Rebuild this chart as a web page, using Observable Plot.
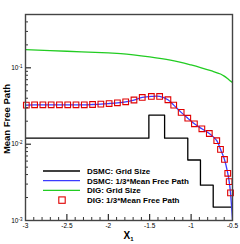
<!DOCTYPE html>
<html><head><meta charset="utf-8">
<script src="https://cdn.jsdelivr.net/npm/d3@7"></script>
<script src="https://cdn.jsdelivr.net/npm/@observablehq/plot@0.6"></script>
<style>body{margin:0;background:#fff} svg{display:block}</style>
</head><body><div id="chart"></div>
<script>
// DSMC: Grid Size (step)
const dsmcGridX = [-3, -1.51, -1.32, -1.04, -0.887, -0.733, -0.516];
const dsmcGridY = [0.012, 0.024, 0.012, 0.0062, 0.0029, 0.0015, 0.0015];
// DSMC: 1/3*Mean Free Path (line)
const dsmcMfpX = [-2.99, -2.89, -2.79, -2.69, -2.59, -2.49, -2.39, -2.29, -2.19, -2.09, -1.99, -1.89, -1.79, -1.69, -1.59, -1.48, -1.38, -1.28, -1.21, -1.12, -1.04, -0.96, -0.87, -0.78, -0.69, -0.645, -0.597, -0.557, -0.54, -0.524, -0.5];
const dsmcMfpY = [0.0325, 0.0328, 0.0328, 0.0328, 0.0328, 0.0328, 0.0328, 0.0328, 0.0331, 0.0335, 0.0341, 0.0348, 0.0359, 0.0379, 0.0409, 0.0422, 0.0422, 0.0382, 0.0325, 0.0261, 0.0219, 0.0185, 0.0159, 0.0138, 0.0111, 0.00855, 0.00631, 0.00415, 0.00323, 0.0023, 0.001];
// DIG: Grid Size (line)
const digGridX = [-3, -2.5, -2, -1.85, -1.5, -1.25, -1, -0.886, -0.75, -0.645, -0.6, -0.55, -0.5];
const digGridY = [0.173, 0.165, 0.157, 0.154, 0.139, 0.126, 0.109, 0.101, 0.091, 0.083, 0.078, 0.071, 0.064];
// DIG: 1/3*Mean Free Path (markers)
const digMfpX = [-2.99, -2.89, -2.79, -2.69, -2.59, -2.49, -2.39, -2.29, -2.19, -2.09, -1.99, -1.89, -1.79, -1.69, -1.59, -1.48, -1.38, -1.28, -1.21, -1.12, -1.04, -0.96, -0.87, -0.78, -0.69, -0.645, -0.597, -0.557, -0.54, -0.524];
const digMfpY = [0.0325, 0.0328, 0.0328, 0.0328, 0.0328, 0.0328, 0.0328, 0.0328, 0.0331, 0.0335, 0.0341, 0.0348, 0.0359, 0.0379, 0.0409, 0.0422, 0.0422, 0.0382, 0.0325, 0.0261, 0.0219, 0.0185, 0.0159, 0.0138, 0.0111, 0.00855, 0.00631, 0.00415, 0.00323, 0.0023];

const xMajorTicks = [-3, -2.5, -2, -1.5, -1, -0.5];
const xMinorTicks = [-2.9,-2.8,-2.7,-2.6,-2.4,-2.3,-2.2,-2.1,-1.9,-1.8,-1.7,-1.6,-1.4,-1.3,-1.2,-1.1,-0.9,-0.8,-0.7,-0.6];
const yMajorTicks = [0.001, 0.01, 0.1];
const yMinorTicks = [0.002,0.003,0.004,0.005,0.006,0.007,0.008,0.009,0.02,0.03,0.04,0.05,0.06,0.07,0.08,0.09,0.2,0.3,0.4];
const legendLabels = ["DSMC: Grid Size", "DSMC: 1/3*Mean Free Path", "DIG: Grid Size", "DIG: 1/3*Mean Free Path"];
const legendColors = ["#000000", "#3c3cff", "#22cc22", "#e00000"];

const zip = (xs, ys) => xs.map((x, i) => ({x, y: ys[i]}));
const W = 240, H = 244, mL = 25, mR = 8, mT = 14, mB = 24;
const pw = W - mL - mR, ph = H - mT - mB;

const chart = Plot.plot({
  width: W, height: H,
  marginLeft: mL, marginRight: mR, marginTop: mT, marginBottom: mB,
  style: {fontFamily: "'Liberation Sans', Arial, sans-serif", fontSize: "6.5px", color: "#000", background: "#fff", overflow: "visible"},
  x: {domain: [-3, -0.5]},
  y: {type: "log", domain: [0.001, 0.5]},
  marks: [
    Plot.line(zip(dsmcGridX, dsmcGridY), {x: "x", y: "y", curve: "step-after", stroke: legendColors[0], strokeWidth: 1.3, clip: true}),
    Plot.line(zip(digGridX, digGridY), {x: "x", y: "y", curve: "catmull-rom", stroke: legendColors[2], strokeWidth: 1.3, clip: true}),
    Plot.line(zip(dsmcMfpX, dsmcMfpY), {x: "x", y: "y", curve: "catmull-rom", stroke: legendColors[1], strokeWidth: 1.3, clip: true}),
    Plot.dot(zip(digMfpX, digMfpY), {x: "x", y: "y", symbol: "square", r: 3.2, stroke: legendColors[3], strokeWidth: 1.1, fill: "none"}),
    Plot.tickX(xMajorTicks, {x: d => d, insetTop: ph - 6, stroke: "#000", strokeWidth: 1}),
    Plot.tickX(xMinorTicks, {x: d => d, insetTop: ph - 3, stroke: "#000", strokeWidth: 0.8}),
    Plot.tickY(yMajorTicks, {y: d => d, insetRight: pw - 6, stroke: "#000", strokeWidth: 1}),
    Plot.tickY(yMinorTicks, {y: d => d, insetRight: pw - 3, stroke: "#000", strokeWidth: 0.8}),
    Plot.frame({stroke: "#444", strokeWidth: 1.4}),
    Plot.axisX({ticks: xMajorTicks, tickSize: 0, tickPadding: 3, tickFormat: d => String(d), label: null}),
    Plot.axisY({ticks: yMajorTicks, tickSize: 0, tickPadding: 3, tickFormat: d => "10|" + Math.round(Math.log10(d)), label: null})
  ]
});
document.getElementById("chart").appendChild(chart);

const svg = d3.select(chart);
// superscript tick labels
svg.selectAll('g[aria-label="y-axis tick label"] text').each(function() {
  const t = d3.select(this);
  const [base, exp] = t.text().split("|");
  t.text(null);
  t.append("tspan").text(base);
  t.append("tspan").attr("font-size", "4.5px").attr("dy", "-0.45em").text(exp);
});
// axis titles
const xt = svg.append("text").attr("x", mL + pw / 2).attr("y", H - 5)
  .attr("text-anchor", "middle").attr("font-weight", "bold").attr("font-size", "10px")
  .attr("font-family", "'Liberation Sans', Arial, sans-serif");
xt.append("tspan").text("X");
xt.append("tspan").attr("font-size", "6px").attr("dy", "2").text("1");
svg.append("text").attr("transform", `translate(10,${mT + ph / 2 + 2}) rotate(-90)`)
  .attr("text-anchor", "middle").attr("font-weight", "bold").attr("font-size", "9.5px")
  .attr("font-family", "'Liberation Sans', Arial, sans-serif").text("Mean Free Path");
// legend
const lg = svg.append("g").attr("font-family", "'Liberation Sans', Arial, sans-serif")
  .attr("font-size", "8px").attr("font-weight", "bold").attr("text-anchor", "start");
legendLabels.forEach((lab, i) => {
  const yy = 171 + i * 9.7;
  if (i < 3) {
    lg.append("line").attr("x1", 43).attr("x2", 80).attr("y1", yy).attr("y2", yy)
      .attr("stroke", legendColors[i]).attr("stroke-width", 1.3);
  } else {
    lg.append("rect").attr("x", 62 - 3.2).attr("y", yy - 3.2).attr("width", 6.4).attr("height", 6.4)
      .attr("fill", "none").attr("stroke", legendColors[i]).attr("stroke-width", 1.1);
  }
  lg.append("text").attr("x", 87).attr("y", yy).attr("dy", "0.35em").attr("text-anchor", "start").text(lab);
});
</script>
</body></html>
